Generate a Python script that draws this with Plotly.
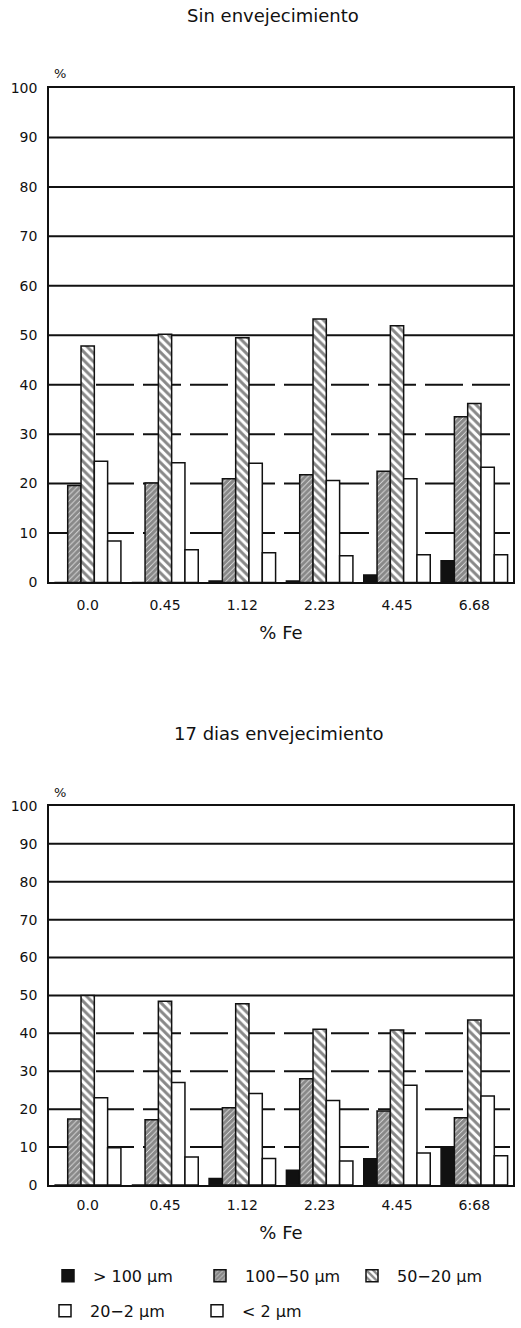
import plotly.graph_objects as go

# Iron content (% Fe) categories
fe_top = ["0.0", "0.45", "1.12", "2.23", "4.45", "6.68"]
fe_bottom = ["0.0", "0.45", "1.12", "2.23", "4.45", "6:68"]

# Particle-size fractions (%), no ageing
sin_gt100 = [0.0, 0.0, 0.3, 0.3, 1.5, 4.4]
sin_100_50 = [19.6, 20.1, 21.0, 21.8, 22.5, 33.5]
sin_50_20 = [47.8, 50.2, 49.5, 53.3, 51.9, 36.2]
sin_20_2 = [24.5, 24.2, 24.1, 20.6, 21.0, 23.3]
sin_lt2 = [8.4, 6.6, 6.0, 5.4, 5.6, 5.6]

# Particle-size fractions (%), 17 days ageing
d17_gt100 = [0.0, 0.0, 1.7, 3.9, 6.9, 10.0]
d17_100_50 = [17.4, 17.2, 20.4, 28.0, 19.5, 17.7]
d17_50_20 = [50.0, 48.5, 47.8, 41.1, 40.9, 43.5]
d17_20_2 = [23.0, 27.0, 24.1, 22.3, 26.3, 23.5]
d17_lt2 = [9.8, 7.4, 7.0, 6.3, 8.4, 7.7]

series_names = ["> 100 μm", "100−50 μm", "50−20 μm", "20−2 μm", "< 2 μm"]
y_ticks = [0, 10, 20, 30, 40, 50, 60, 70, 80, 90, 100]

FONT = "DejaVu Sans"
INK = "#111111"

styles = [
    dict(color=INK),
    dict(color="white", pattern=dict(shape="/", fgcolor=INK, bgcolor="white", size=4, solidity=0.85)),
    dict(color="white", pattern=dict(shape="\\", fgcolor=INK, bgcolor="white", size=6, solidity=0.5)),
    dict(color="white"),
    dict(color="white"),
]
# first three fractions in the upper legend row, the rest in the lower row
legend_rows = ["legend", "legend", "legend", "legend2", "legend2"]

fig = go.Figure()

def add_group(cats, sets, xa, ya, show):
    for name, vals, st, lg in zip(series_names, sets, styles, legend_rows):
        marker = dict(st)
        marker["line"] = dict(color=INK, width=1.5)
        fig.add_trace(go.Bar(
            x=cats, y=vals, name=name, marker=marker,
            xaxis=xa, yaxis=ya, showlegend=show, legendgroup=name, legend=lg,
        ))

add_group(fe_top, [sin_gt100, sin_100_50, sin_50_20, sin_20_2, sin_lt2], "x", "y", True)
add_group(fe_bottom, [d17_gt100, d17_100_50, d17_50_20, d17_20_2, d17_lt2], "x2", "y2", False)

H = 1328.0
W = 521.0


def py(y_px):
    """Paper fraction for a vertical pixel position on the page."""
    return 1 - ((y_px - 7) / 0.988) / H


xdom = [49 / W, 513 / W]
top_dom = [py(581.5), py(87)]
bot_dom = [py(1184), py(805)]

axis_common = dict(
    showline=True, linecolor=INK, linewidth=1.5, mirror=True,
    showgrid=False, zeroline=False,
    tickfont=dict(family=FONT, size=14, color=INK),
)

legend_common = dict(
    orientation="h", xanchor="left", yanchor="middle",
    entrywidth=97, entrywidthmode="pixels", traceorder="normal",
    font=dict(family=FONT, size=16, color=INK), itemwidth=40,
    bgcolor="rgba(0,0,0,0)",
)

fig.update_layout(
    width=521, height=1328,
    margin=dict(l=0, r=0, t=0, b=0),
    paper_bgcolor="white", plot_bgcolor="white",
    barmode="group", bargap=0.14, bargroupgap=0.0,
    font=dict(family=FONT, color=INK),
    xaxis=dict(domain=xdom, anchor="y", type="category", ticks="",
               ticklabelstandoff=9, **axis_common,
               title=dict(text="% Fe", font=dict(family=FONT, size=18), standoff=14)),
    yaxis=dict(domain=top_dom, anchor="x", range=[0, 100], tickvals=y_ticks,
               ticks="", ticklabelstandoff=7, **axis_common),
    xaxis2=dict(domain=xdom, anchor="y2", type="category", ticks="",
                ticklabelstandoff=7, **axis_common,
                title=dict(text="% Fe", font=dict(family=FONT, size=18), standoff=14)),
    yaxis2=dict(domain=bot_dom, anchor="x2", range=[0, 100], tickvals=y_ticks,
                ticks="", ticklabelstandoff=7, **axis_common),
    legend=dict(x=43 / W, y=py(1275), **legend_common),
    legend2=dict(x=40 / W, y=py(1310), **legend_common),
)

# Horizontal reference lines: long-dashed below 50 %, solid from 50 % up
for ya, xa in (("y", "x"), ("y2", "x2")):
    for v in y_ticks[1:-1]:
        fig.add_shape(
            type="line", xref=f"{xa} domain", yref=ya, x0=0, x1=1, y0=v, y1=v,
            line=dict(color=INK, width=2, dash="solid" if v >= 50 else "38px,9px"),
            layer="below",
        )

# Panel titles and axis unit markers
fig.add_annotation(text="Sin envejecimiento", xref="paper", yref="paper",
                   x=273 / W, y=py(15), yanchor="middle", showarrow=False,
                   font=dict(family=FONT, size=18, color=INK))
fig.add_annotation(text="17 dias envejecimiento", xref="paper", yref="paper",
                   x=278 / W, y=py(733), yanchor="middle", showarrow=False,
                   font=dict(family=FONT, size=18, color=INK))
fig.add_annotation(text="%", xref="paper", yref="paper",
                   x=52 / W, y=py(73), yanchor="middle", showarrow=False,
                   font=dict(family=FONT, size=13, color=INK))
fig.add_annotation(text="%", xref="paper", yref="paper",
                   x=52 / W, y=py(792), yanchor="middle", showarrow=False,
                   font=dict(family=FONT, size=13, color=INK))

fig.write_html("out.html")
